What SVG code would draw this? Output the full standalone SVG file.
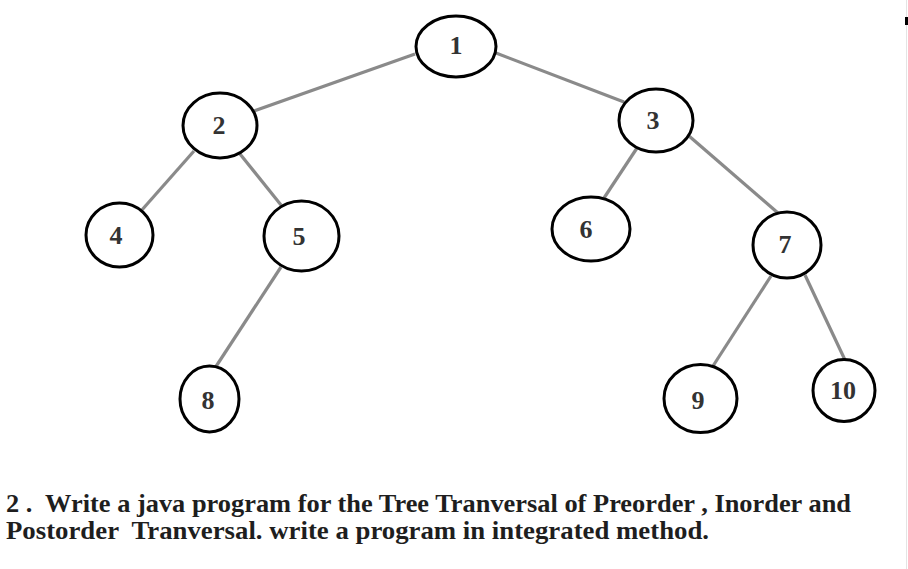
<svg xmlns="http://www.w3.org/2000/svg" width="908" height="569" viewBox="0 0 908 569">
<style>
.node ellipse{fill:#fff;stroke:#000;stroke-width:3}
.node text{font-family:"Liberation Serif","DejaVu Serif",serif;font-weight:bold;font-size:26px;fill:#333;text-anchor:middle}
.edges line{stroke:#8a8a8a;stroke-width:3.2}
.caption{font-family:"Liberation Serif","DejaVu Serif",serif;font-weight:bold;font-size:26px;fill:#1e1e1e;white-space:pre}
</style>
<rect width="908" height="569" fill="#fff"/>
<line x1="906.5" y1="0" x2="906.5" y2="569" stroke="#e4e4e4" stroke-width="1"/>
<rect x="905" y="17" width="3" height="8" fill="#000"/>
<g id="connectors" class="edges">
<line x1="415" y1="54" x2="254" y2="111"/>
<line x1="496" y1="53" x2="624" y2="102"/>
<line x1="194" y1="151" x2="141" y2="211"/>
<line x1="240" y1="154" x2="281" y2="205"/>
<line x1="281" y1="267" x2="215" y2="368"/>
<line x1="637" y1="148" x2="604" y2="198"/>
<line x1="689" y1="136" x2="778" y2="213"/>
<line x1="771" y1="276" x2="713" y2="366"/>
<line x1="805" y1="275" x2="845" y2="360"/>
</g>
<g id="node1" class="node"><ellipse cx="456" cy="46.5" rx="40" ry="30.5"/><text x="456" y="54">1</text></g>
<g id="node2" class="node"><ellipse cx="220" cy="125.5" rx="37" ry="32.5"/><text x="219" y="134">2</text></g>
<g id="node3" class="node"><ellipse cx="656" cy="120.5" rx="37" ry="31.5"/><text x="653" y="129">3</text></g>
<g id="node4" class="node"><ellipse cx="119.5" cy="235" rx="33.5" ry="32"/><text x="116" y="244">4</text></g>
<g id="node5" class="node"><ellipse cx="301.5" cy="236" rx="37.5" ry="35"/><text x="299" y="245">5</text></g>
<g id="node6" class="node"><ellipse cx="591" cy="229" rx="39" ry="32"/><text x="586" y="238">6</text></g>
<g id="node7" class="node"><ellipse cx="787" cy="245" rx="34" ry="33"/><text x="785" y="253">7</text></g>
<g id="node8" class="node"><ellipse cx="209.5" cy="399" rx="29.5" ry="33"/><text x="208" y="409">8</text></g>
<g id="node9" class="node"><ellipse cx="700.5" cy="398.5" rx="36.5" ry="34"/><text x="698" y="409">9</text></g>
<g id="node10" class="node"><ellipse cx="844" cy="390.5" rx="31" ry="31"/><text x="843" y="399">10</text></g>
<text class="caption" x="6" y="512" textLength="845" lengthAdjust="spacingAndGlyphs">2 .  Write a java program for the Tree Tranversal of Preorder , Inorder and</text>
<text class="caption" x="6" y="539" textLength="703" lengthAdjust="spacingAndGlyphs">Postorder  Tranversal. write a program in integrated method.</text>
</svg>
